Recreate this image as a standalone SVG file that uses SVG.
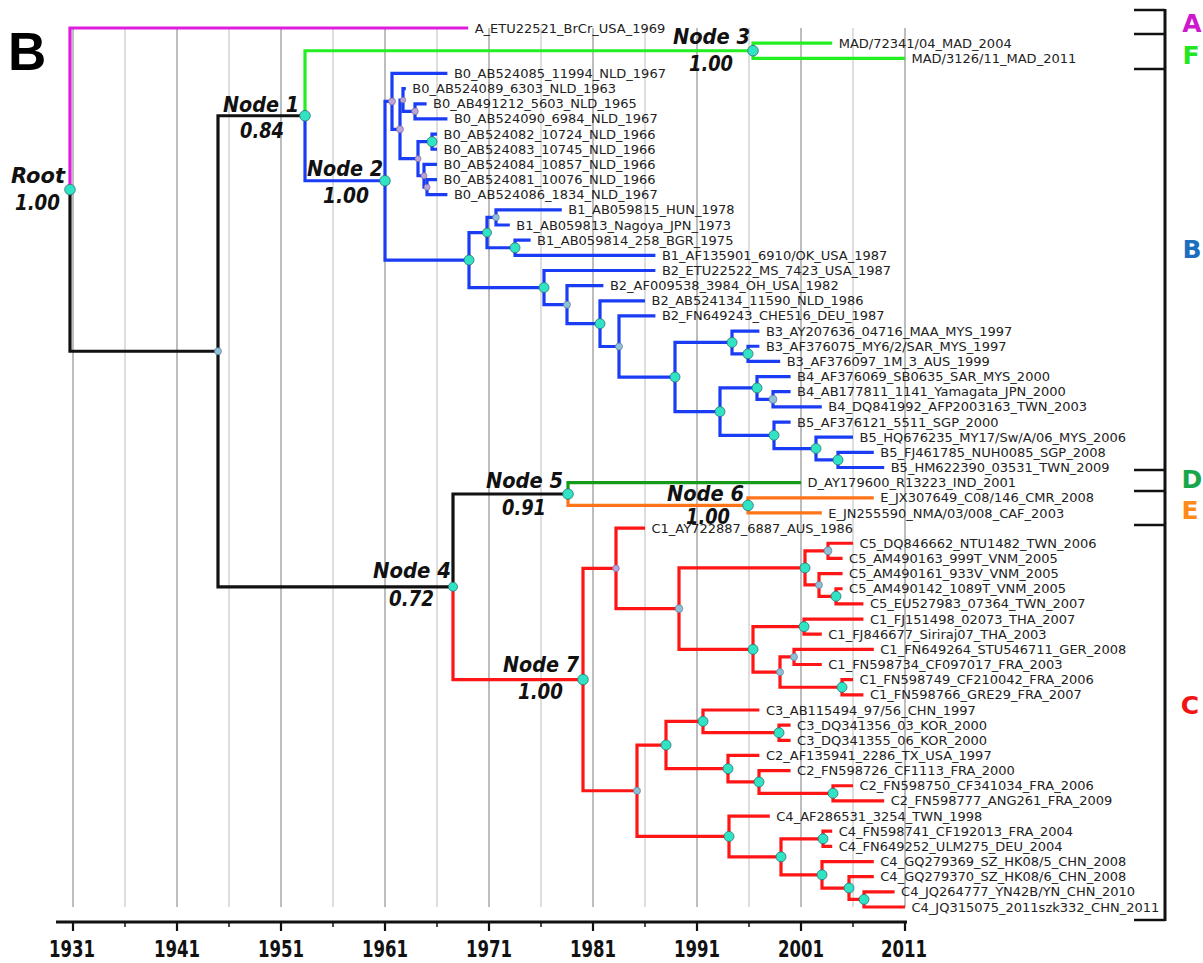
<svg xmlns="http://www.w3.org/2000/svg" width="1203" height="963" viewBox="0 0 1203 963">
<style>
.g1{stroke:#9a9a9a;stroke-width:1.3}
.g2{stroke:#cdcdcd;stroke-width:1.3}
.br{fill:none;stroke-width:3.2;stroke-linejoin:miter;stroke-linecap:butt}
.k{stroke:#111}.m{stroke:#dd1fdd}.f{stroke:#22ee22}.bl{stroke:#1a3cf5}.d{stroke:#159a1c}.o{stroke:#ff7418}.r{stroke:#ff1515}
.big{fill:#2fe3c3;stroke:#2f6f78;stroke-width:0.8}
.sm{fill:#8ec0d8;stroke:#5f7f98;stroke-width:0.7}
.sp{fill:#bca4d8;stroke:#7f6f98;stroke-width:0.7}
.lf{font-family:"DejaVu Sans",sans-serif;font-size:13px;fill:#222}
.nl{font-family:"DejaVu Sans",sans-serif;font-size:22px;font-weight:bold;font-style:italic;fill:#111}
.yr{font-family:"DejaVu Sans",sans-serif;font-size:23px;font-weight:bold;fill:#111}
.cl{font-family:"DejaVu Sans",sans-serif;font-size:25px;font-weight:bold;text-anchor:middle}
.ax{stroke:#111;fill:none}
</style>
<rect width="1203" height="963" fill="#fff"/>
<g id="grid">
<line class="g1" x1="73" y1="28" x2="73" y2="907"/><line class="g2" x1="125" y1="28" x2="125" y2="907"/>
<line class="g1" x1="177" y1="28" x2="177" y2="907"/><line class="g2" x1="229" y1="28" x2="229" y2="907"/>
<line class="g1" x1="281" y1="28" x2="281" y2="907"/><line class="g2" x1="333" y1="28" x2="333" y2="907"/>
<line class="g1" x1="385" y1="28" x2="385" y2="907"/><line class="g2" x1="437" y1="28" x2="437" y2="907"/>
<line class="g1" x1="489" y1="28" x2="489" y2="907"/><line class="g2" x1="541" y1="28" x2="541" y2="907"/>
<line class="g1" x1="593" y1="28" x2="593" y2="907"/><line class="g2" x1="645" y1="28" x2="645" y2="907"/>
<line class="g1" x1="697" y1="28" x2="697" y2="907"/><line class="g2" x1="749" y1="28" x2="749" y2="907"/>
<line class="g1" x1="801" y1="28" x2="801" y2="907"/><line class="g2" x1="853" y1="28" x2="853" y2="907"/>
<line class="g1" x1="905" y1="28" x2="905" y2="907"/>
</g>
<text x="8" y="70" font-family="Liberation Sans, Arial, sans-serif" font-size="53" font-weight="bold" fill="#000">B</text>
<g id="connectors">
<path class="br m" d="M468.2,28 H70 V189.6"/>
<path class="br k" d="M70,189.6 V351.27 H218"/>
<path class="br k" d="M305,115.74 H218 V586.79 H453"/>
<path class="br f" d="M753,50.74 H305 V115.74"/>
<path class="br bl" d="M305,115.74 V180.75 H385"/>
<path class="br f" d="M832.2,43.16 H753 V58.31 H905"/>
<path class="br bl" d="M392,101.41 H385 V260.08 H469"/>
<path class="br bl" d="M447.4,73.47 H392 V129.36 H400"/>
<path class="br bl" d="M403,99.99 H400 V158.72 H418"/>
<path class="br bl" d="M405.8,88.62 H403 V111.36 H415"/>
<path class="br bl" d="M426.6,103.78 H415 V118.93 H447.4"/>
<path class="br bl" d="M432,141.67 H418 V175.77 H424"/>
<path class="br bl" d="M437,134.09 H432 V149.24 H437"/>
<path class="br bl" d="M437,164.4 H424 V187.13 H427"/>
<path class="br bl" d="M437,179.55 H427 V194.71 H447.4"/>
<path class="br bl" d="M487,232.6 H469 V287.56 H544"/>
<path class="br bl" d="M496,217.44 H487 V247.75 H515"/>
<path class="br bl" d="M561.8,209.86 H496 V225.02 H509.8"/>
<path class="br bl" d="M530.6,240.17 H515 V255.33 H655.4"/>
<path class="br bl" d="M655.4,270.48 H544 V304.65 H567"/>
<path class="br bl" d="M603.4,285.64 H567 V323.65 H600"/>
<path class="br bl" d="M645,300.79 H600 V346.5 H619"/>
<path class="br bl" d="M655.4,315.95 H619 V377.05 H675"/>
<path class="br bl" d="M732,342.47 H675 V411.62 H720"/>
<path class="br bl" d="M759.4,331.1 H732 V353.84 H748"/>
<path class="br bl" d="M759.4,346.26 H748 V361.41 H780.2"/>
<path class="br bl" d="M757,387.94 H720 V435.29 H774"/>
<path class="br bl" d="M790.6,376.57 H757 V399.3 H773"/>
<path class="br bl" d="M790.6,391.72 H773 V406.88 H821.8"/>
<path class="br bl" d="M790.6,422.03 H774 V448.55 H816"/>
<path class="br bl" d="M853,437.19 H816 V459.92 H838"/>
<path class="br bl" d="M873.8,452.34 H838 V467.5 H884.2"/>
<path class="br k" d="M568,494.02 H453 V586.79"/>
<path class="br r" d="M453,586.79 V679.56 H583"/>
<path class="br d" d="M801,482.65 H568 V494.02"/>
<path class="br o" d="M568,494.02 V505.39 H748"/>
<path class="br o" d="M873.8,497.81 H748 V512.96 H821.8"/>
<path class="br r" d="M616,568.38 H583 V790.73 H637"/>
<path class="br r" d="M645,528.12 H616 V608.64 H679"/>
<path class="br r" d="M805,567.9 H679 V649.37 H753"/>
<path class="br r" d="M828,550.85 H805 V584.95 H819"/>
<path class="br r" d="M853,543.27 H828 V558.43 H842.6"/>
<path class="br r" d="M842.6,573.58 H819 V596.32 H836"/>
<path class="br r" d="M842.6,588.74 H836 V603.89 H863.4"/>
<path class="br r" d="M804,626.63 H753 V672.1 H780"/>
<path class="br r" d="M863.4,619.05 H804 V634.2 H821.8"/>
<path class="br r" d="M794,656.94 H780 V687.25 H842"/>
<path class="br r" d="M873.8,649.36 H794 V664.51 H821.8"/>
<path class="br r" d="M853,679.67 H842 V694.82 H863.4"/>
<path class="br r" d="M666,745.03 H637 V836.43 H729"/>
<path class="br r" d="M703,721.35 H666 V768.7 H728"/>
<path class="br r" d="M759.4,709.98 H703 V732.71 H779"/>
<path class="br r" d="M790.6,725.13 H779 V740.29 H790.6"/>
<path class="br r" d="M759.4,755.44 H728 V781.97 H759"/>
<path class="br r" d="M790.6,770.6 H759 V793.33 H833"/>
<path class="br r" d="M853,785.75 H833 V800.91 H884.2"/>
<path class="br r" d="M769.8,816.06 H729 V856.8 H781"/>
<path class="br r" d="M823,838.8 H781 V874.79 H822"/>
<path class="br r" d="M832.2,831.22 H823 V846.37 H832.2"/>
<path class="br r" d="M873.8,861.53 H822 V888.05 H849"/>
<path class="br r" d="M873.8,876.68 H849 V899.42 H864"/>
<path class="br r" d="M894.6,891.84 H864 V907 H905"/>
</g>
<g id="internal-nodes">
<g id="root"><circle class="big" cx="70" cy="189.6" r="5.3"/><text class="nl" x="11" y="183" textLength="54" lengthAdjust="spacingAndGlyphs">Root</text><text class="nl" x="15" y="210" textLength="45" lengthAdjust="spacingAndGlyphs">1.00</text></g>
<g id="n218"><circle class="sm" cx="218" cy="351.27" r="3.5"/></g>
<g id="node1"><circle class="big" cx="305" cy="115.74" r="5.3"/><text class="nl" x="223" y="112" textLength="76" lengthAdjust="spacingAndGlyphs">Node 1</text><text class="nl" x="240" y="138" textLength="44" lengthAdjust="spacingAndGlyphs">0.84</text></g>
<g id="node2"><circle class="big" cx="385" cy="180.75" r="5.3"/><text class="nl" x="307" y="176" textLength="76" lengthAdjust="spacingAndGlyphs">Node 2</text><text class="nl" x="323" y="203" textLength="46" lengthAdjust="spacingAndGlyphs">1.00</text></g>
<g id="node3"><circle class="big" cx="753" cy="50.74" r="5.3"/><text class="nl" x="673" y="44" textLength="77" lengthAdjust="spacingAndGlyphs">Node 3</text><text class="nl" x="689" y="71" textLength="44" lengthAdjust="spacingAndGlyphs">1.00</text></g>
<g id="b0root"><circle class="sp" cx="392" cy="101.41" r="3.5"/></g>
<g id="b0a"><circle class="sp" cx="400" cy="129.36" r="3.5"/></g>
<g id="b0b"><circle class="sp" cx="403" cy="99.99" r="2.8"/></g>
<g id="b0d"><circle class="sp" cx="415" cy="111.36" r="3.3"/></g>
<g id="b0c"><circle class="sp" cx="418" cy="158.72" r="3"/></g>
<g id="b0e"><circle class="big" cx="432" cy="141.67" r="5"/></g>
<g id="b0f"><circle class="sp" cx="424" cy="175.77" r="3"/></g>
<g id="b0g"><circle class="sp" cx="427" cy="187.13" r="3"/></g>
<g id="nb"><circle class="big" cx="469" cy="260.08" r="5"/></g>
<g id="nb1"><circle class="big" cx="487" cy="232.6" r="4.5"/></g>
<g id="nb1h"><circle class="sm" cx="496" cy="217.44" r="3.3"/></g>
<g id="nb1i"><circle class="big" cx="515" cy="247.75" r="5"/></g>
<g id="nb2"><circle class="big" cx="544" cy="287.56" r="5"/></g>
<g id="nb2j"><circle class="sm" cx="567" cy="304.65" r="3.5"/></g>
<g id="nb2k"><circle class="big" cx="600" cy="323.65" r="5"/></g>
<g id="nb2l"><circle class="sm" cx="619" cy="346.5" r="3.5"/></g>
<g id="nbm"><circle class="big" cx="675" cy="377.05" r="5"/></g>
<g id="nb3"><circle class="big" cx="732" cy="342.47" r="5"/></g>
<g id="nb3n"><circle class="big" cx="748" cy="353.84" r="5"/></g>
<g id="nb45"><circle class="big" cx="720" cy="411.62" r="5"/></g>
<g id="nb4"><circle class="big" cx="757" cy="387.94" r="5"/></g>
<g id="nb4o"><circle class="sm" cx="773" cy="399.3" r="4" fill="#5fb8c4"/></g>
<g id="nb5"><circle class="big" cx="774" cy="435.29" r="5"/></g>
<g id="nb5p"><circle class="big" cx="816" cy="448.55" r="5"/></g>
<g id="nb5q"><circle class="big" cx="838" cy="459.92" r="5"/></g>
<g id="node4"><circle class="big" cx="453" cy="586.79" r="4.5"/><text class="nl" x="373" y="578" textLength="78" lengthAdjust="spacingAndGlyphs">Node 4</text><text class="nl" x="389" y="606" textLength="45" lengthAdjust="spacingAndGlyphs">0.72</text></g>
<g id="node5"><circle class="big" cx="568" cy="494.02" r="5.3"/><text class="nl" x="486" y="488" textLength="77" lengthAdjust="spacingAndGlyphs">Node 5</text><text class="nl" x="502" y="515" textLength="44" lengthAdjust="spacingAndGlyphs">0.91</text></g>
<g id="node6"><circle class="big" cx="748" cy="505.39" r="5.3"/><text class="nl" x="667" y="501" textLength="77" lengthAdjust="spacingAndGlyphs">Node 6</text><text class="nl" x="686" y="524" textLength="44" lengthAdjust="spacingAndGlyphs">1.00</text></g>
<g id="node7"><circle class="big" cx="583" cy="679.56" r="5.3"/><text class="nl" x="503" y="672" textLength="76" lengthAdjust="spacingAndGlyphs">Node 7</text><text class="nl" x="518" y="699" textLength="45" lengthAdjust="spacingAndGlyphs">1.00</text></g>
<g id="nc1a"><circle class="sp" cx="616" cy="568.38" r="3.3"/></g>
<g id="ncr"><circle class="sm" cx="679" cy="608.64" r="3.8"/></g>
<g id="nc5"><circle class="big" cx="805" cy="567.9" r="5"/></g>
<g id="nc5t"><circle class="sm" cx="828" cy="550.85" r="4" fill="#6cc0cc"/></g>
<g id="nc5u"><circle class="sm" cx="819" cy="584.95" r="3.5"/></g>
<g id="nc5v"><circle class="big" cx="836" cy="596.32" r="5"/></g>
<g id="ncs"><circle class="big" cx="753" cy="649.37" r="5"/></g>
<g id="ncw"><circle class="big" cx="804" cy="626.63" r="5"/></g>
<g id="ncx"><circle class="sm" cx="780" cy="672.1" r="3.5"/></g>
<g id="ncy"><circle class="sm" cx="794" cy="656.94" r="3.5"/></g>
<g id="ncz"><circle class="big" cx="842" cy="687.25" r="5"/></g>
<g id="nc2"><circle class="sm" cx="637" cy="790.73" r="3.5"/></g>
<g id="nc23"><circle class="big" cx="666" cy="745.03" r="5"/></g>
<g id="nc3"><circle class="big" cx="703" cy="721.35" r="5"/></g>
<g id="nc3a"><circle class="big" cx="779" cy="732.71" r="5"/></g>
<g id="nc2b"><circle class="big" cx="728" cy="768.7" r="5"/></g>
<g id="nc2bb"><circle class="big" cx="759" cy="781.97" r="5"/></g>
<g id="nc2cc"><circle class="big" cx="833" cy="793.33" r="5"/></g>
<g id="nc4"><circle class="big" cx="729" cy="836.43" r="5"/></g>
<g id="nc4dd"><circle class="big" cx="781" cy="856.8" r="5"/></g>
<g id="nc4ee"><circle class="big" cx="823" cy="838.8" r="5"/></g>
<g id="nc4ff"><circle class="big" cx="822" cy="874.79" r="5"/></g>
<g id="nc4gg"><circle class="big" cx="849" cy="888.05" r="5"/></g>
<g id="nc4hh"><circle class="big" cx="864" cy="899.42" r="5"/></g>
</g>
<g id="leaves" class="lf">
<g id="l1"><text x="474.7" y="32.5">A_ETU22521_BrCr_USA_1969</text></g>
<g id="l2"><text x="838.7" y="47.7">MAD/72341/04_MAD_2004</text></g>
<g id="l3"><text x="911.5" y="62.8">MAD/3126/11_MAD_2011</text></g>
<g id="l4"><text x="453.9" y="78">B0_AB524085_11994_NLD_1967</text></g>
<g id="l5"><text x="412.3" y="93.1">B0_AB524089_6303_NLD_1963</text></g>
<g id="l6"><text x="433.1" y="108.3">B0_AB491212_5603_NLD_1965</text></g>
<g id="l7"><text x="453.9" y="123.4">B0_AB524090_6984_NLD_1967</text></g>
<g id="l8"><text x="443.5" y="138.6">B0_AB524082_10724_NLD_1966</text></g>
<g id="l9"><text x="443.5" y="153.7">B0_AB524083_10745_NLD_1966</text></g>
<g id="l10"><text x="443.5" y="168.9">B0_AB524084_10857_NLD_1966</text></g>
<g id="l11"><text x="443.5" y="184">B0_AB524081_10076_NLD_1966</text></g>
<g id="l12"><text x="453.9" y="199.2">B0_AB524086_1834_NLD_1967</text></g>
<g id="l13"><text x="568.3" y="214.4">B1_AB059815_HUN_1978</text></g>
<g id="l14"><text x="516.3" y="229.5">B1_AB059813_Nagoya_JPN_1973</text></g>
<g id="l15"><text x="537.1" y="244.7">B1_AB059814_258_BGR_1975</text></g>
<g id="l16"><text x="661.9" y="259.8">B1_AF135901_6910/OK_USA_1987</text></g>
<g id="l17"><text x="661.9" y="275">B2_ETU22522_MS_7423_USA_1987</text></g>
<g id="l18"><text x="609.9" y="290.1">B2_AF009538_3984_OH_USA_1982</text></g>
<g id="l19"><text x="651.5" y="305.3">B2_AB524134_11590_NLD_1986</text></g>
<g id="l20"><text x="661.9" y="320.4">B2_FN649243_CHE516_DEU_1987</text></g>
<g id="l21"><text x="765.9" y="335.6">B3_AY207636_04716_MAA_MYS_1997</text></g>
<g id="l22"><text x="765.9" y="350.8">B3_AF376075_MY6/2/SAR_MYS_1997</text></g>
<g id="l23"><text x="786.7" y="365.9">B3_AF376097_1M_3_AUS_1999</text></g>
<g id="l24"><text x="797.1" y="381.1">B4_AF376069_SB0635_SAR_MYS_2000</text></g>
<g id="l25"><text x="797.1" y="396.2">B4_AB177811_1141_Yamagata_JPN_2000</text></g>
<g id="l26"><text x="828.3" y="411.4">B4_DQ841992_AFP2003163_TWN_2003</text></g>
<g id="l27"><text x="797.1" y="426.5">B5_AF376121_5511_SGP_2000</text></g>
<g id="l28"><text x="859.5" y="441.7">B5_HQ676235_MY17/Sw/A/06_MYS_2006</text></g>
<g id="l29"><text x="880.3" y="456.8">B5_FJ461785_NUH0085_SGP_2008</text></g>
<g id="l30"><text x="890.7" y="472">B5_HM622390_03531_TWN_2009</text></g>
<g id="l31"><text x="807.5" y="487.2">D_AY179600_R13223_IND_2001</text></g>
<g id="l32"><text x="880.3" y="502.3">E_JX307649_C08/146_CMR_2008</text></g>
<g id="l33"><text x="828.3" y="517.5">E_JN255590_NMA/03/008_CAF_2003</text></g>
<g id="l34"><text x="651.5" y="532.6">C1_AY722887_6887_AUS_1986</text></g>
<g id="l35"><text x="859.5" y="547.8">C5_DQ846662_NTU1482_TWN_2006</text></g>
<g id="l36"><text x="849.1" y="562.9">C5_AM490163_999T_VNM_2005</text></g>
<g id="l37"><text x="849.1" y="578.1">C5_AM490161_933V_VNM_2005</text></g>
<g id="l38"><text x="849.1" y="593.2">C5_AM490142_1089T_VNM_2005</text></g>
<g id="l39"><text x="869.9" y="608.4">C5_EU527983_07364_TWN_2007</text></g>
<g id="l40"><text x="869.9" y="623.6">C1_FJ151498_02073_THA_2007</text></g>
<g id="l41"><text x="828.3" y="638.7">C1_FJ846677_Siriraj07_THA_2003</text></g>
<g id="l42"><text x="880.3" y="653.9">C1_FN649264_STU546711_GER_2008</text></g>
<g id="l43"><text x="828.3" y="669">C1_FN598734_CF097017_FRA_2003</text></g>
<g id="l44"><text x="859.5" y="684.2">C1_FN598749_CF210042_FRA_2006</text></g>
<g id="l45"><text x="869.9" y="699.3">C1_FN598766_GRE29_FRA_2007</text></g>
<g id="l46"><text x="765.9" y="714.5">C3_AB115494_97/56_CHN_1997</text></g>
<g id="l47"><text x="797.1" y="729.6">C3_DQ341356_03_KOR_2000</text></g>
<g id="l48"><text x="797.1" y="744.8">C3_DQ341355_06_KOR_2000</text></g>
<g id="l49"><text x="765.9" y="759.9">C2_AF135941_2286_TX_USA_1997</text></g>
<g id="l50"><text x="797.1" y="775.1">C2_FN598726_CF1113_FRA_2000</text></g>
<g id="l51"><text x="859.5" y="790.3">C2_FN598750_CF341034_FRA_2006</text></g>
<g id="l52"><text x="890.7" y="805.4">C2_FN598777_ANG261_FRA_2009</text></g>
<g id="l53"><text x="776.3" y="820.6">C4_AF286531_3254_TWN_1998</text></g>
<g id="l54"><text x="838.7" y="835.7">C4_FN598741_CF192013_FRA_2004</text></g>
<g id="l55"><text x="838.7" y="850.9">C4_FN649252_ULM275_DEU_2004</text></g>
<g id="l56"><text x="880.3" y="866">C4_GQ279369_SZ_HK08/5_CHN_2008</text></g>
<g id="l57"><text x="880.3" y="881.2">C4_GQ279370_SZ_HK08/6_CHN_2008</text></g>
<g id="l58"><text x="901.1" y="896.3">C4_JQ264777_YN42B/YN_CHN_2010</text></g>
<g id="l59"><text x="911.5" y="911.5">C4_JQ315075_2011szk332_CHN_2011</text></g>
</g>
<g id="axis">
<path class="ax" stroke-width="3" d="M56,922 H907"/>
<path class="ax" stroke-width="2.2" d="M73,922 v9 M177,922 v9 M281,922 v9 M385,922 v9 M489,922 v9 M593,922 v9 M697,922 v9 M801,922 v9 M905,922 v9"/>
<path class="ax" stroke-width="1.5" d="M125,922 v5 M229,922 v5 M333,922 v5 M437,922 v5 M541,922 v5 M645,922 v5 M749,922 v5 M853,922 v5"/>
<g class="yr" text-anchor="middle">
<text x="72" y="957" textLength="46" lengthAdjust="spacingAndGlyphs">1931</text>
<text x="177" y="957" textLength="46" lengthAdjust="spacingAndGlyphs">1941</text>
<text x="281" y="957" textLength="46" lengthAdjust="spacingAndGlyphs">1951</text>
<text x="385" y="957" textLength="46" lengthAdjust="spacingAndGlyphs">1961</text>
<text x="489" y="957" textLength="46" lengthAdjust="spacingAndGlyphs">1971</text>
<text x="593" y="957" textLength="46" lengthAdjust="spacingAndGlyphs">1981</text>
<text x="697" y="957" textLength="46" lengthAdjust="spacingAndGlyphs">1991</text>
<text x="801" y="957" textLength="46" lengthAdjust="spacingAndGlyphs">2001</text>
<text x="904" y="957" textLength="46" lengthAdjust="spacingAndGlyphs">2011</text>
</g>
</g>
<g id="clades">
<path class="ax" stroke-width="3" d="M1165,9 V921"/>
<path class="ax" stroke-width="2.5" d="M1134,10 H1165 M1134,34 H1165 M1134,69 H1165 M1134,470 H1165 M1134,491 H1165 M1134,525 H1165 M1134,920 H1165"/>
<text class="cl" x="1192" y="32" fill="#cc19cc">A</text>
<text class="cl" x="1191" y="64" fill="#22e622">F</text>
<text class="cl" x="1192" y="258" fill="#1e6ebe">B</text>
<text class="cl" x="1192" y="488" fill="#18a64a">D</text>
<text class="cl" x="1190" y="519" fill="#ff8c1a">E</text>
<text class="cl" x="1190" y="714" fill="#f01414">C</text>
</g>
</svg>
